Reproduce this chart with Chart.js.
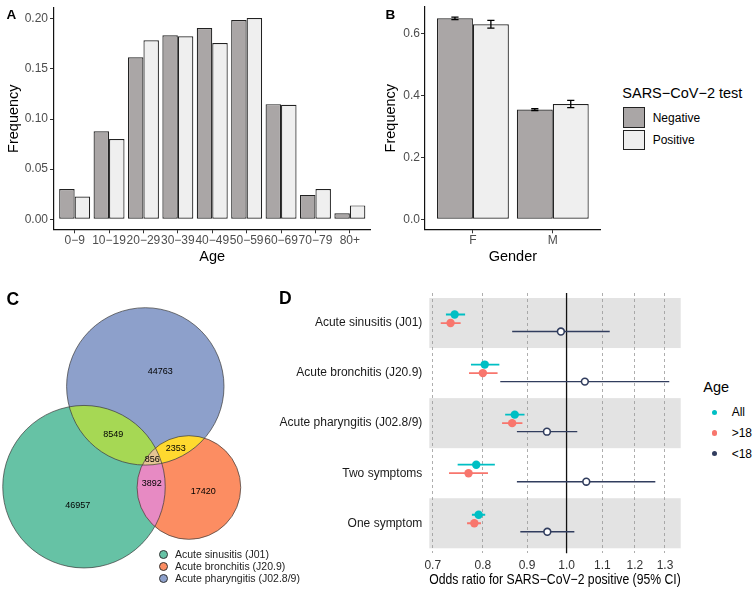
<!DOCTYPE html>
<html>
<head>
<meta charset="utf-8">
<script src="https://cdn.jsdelivr.net/npm/chart.js@4.4.0/dist/chart.umd.min.js"></script>
<style>
body { margin: 0; background: #fff; font-family: 'Liberation Sans', Arial, sans-serif; }
#wrap { position: relative; width: 753px; height: 592px; overflow: hidden; }
canvas { position: absolute; }
.t { position: absolute; line-height: 1; white-space: nowrap; color: #000; }
.key { position: absolute; box-sizing: border-box; }
</style>
</head>
<body>
<div id="wrap">
  <canvas id="chartA" width="376" height="270" style="left:0;top:0"></canvas>
  <canvas id="chartB" width="240" height="270" style="left:370px;top:0"></canvas>
  <canvas id="chartC" width="260" height="312" style="left:0;top:280px"></canvas>
  <canvas id="chartD" width="414" height="312" style="left:276px;top:280px"></canvas>
</div>
<script>
// panel A - age distribution
const ageGroups = ['0−9', '10−19', '20−29', '30−39', '40−49', '50−59', '60−69', '70−79', '80+'];
const ageNegative = [0.0302, 0.0878, 0.1615, 0.1836, 0.1908, 0.1987, 0.1148, 0.0243, 0.0059];
const agePositive = [0.0227, 0.0800, 0.1786, 0.1826, 0.1757, 0.2007, 0.1141, 0.0302, 0.0138];
const ageTicks = [0, 0.05, 0.10, 0.15, 0.20];

// panel B - gender
const genders = ['F', 'M'];
const genderNegative = [0.648, 0.3537];
const genderPositive = [0.629, 0.3717];
const genderNegativeErr = [0.004, 0.003];
const genderPositiveErr = [0.0123, 0.0118];
const genderTicks = [0, 0.2, 0.4, 0.6];
const testGroups = ['Negative', 'Positive'];

// panel C - venn counts
const vennSets = ['Acute sinusitis (J01)', 'Acute bronchitis (J20.9)', 'Acute pharyngitis (J02.8/9)'];
const vennOnly = [46957, 17420, 44763];
const vennPairs = [3892, 8549, 2353]; // sinusitis&bronchitis, sinusitis&pharyngitis, bronchitis&pharyngitis
const vennAll = 856;

// panel D - odds ratios
const symptoms = ['Acute sinusitis (J01)', 'Acute bronchitis (J20.9)', 'Acute pharyngitis (J02.8/9)', 'Two symptoms', 'One symptom'];
const orGroups = ['All', '>18', '<18'];
const orAll = [0.742, 0.804, 0.871, 0.786, 0.791];
const orAllLo = [0.725, 0.775, 0.849, 0.748, 0.777];
const orAllHi = [0.763, 0.836, 0.894, 0.826, 0.805];
const orAdult = [0.734, 0.800, 0.865, 0.770, 0.782];
const orAdultLo = [0.715, 0.771, 0.842, 0.731, 0.767];
const orAdultHi = [0.754, 0.832, 0.889, 0.811, 0.796];
const orChild = [0.985, 1.050, 0.949, 1.054, 0.950];
const orChildLo = [0.865, 0.838, 0.876, 0.876, 0.884];
const orChildHi = [1.122, 1.315, 1.029, 1.267, 1.021];
const orTicks = [0.7, 0.8, 0.9, 1.0, 1.1, 1.2, 1.3];

Chart.defaults.font.family = "'Liberation Sans', Arial, sans-serif";
Chart.defaults.animation = false;
Chart.defaults.events = [];
Chart.defaults.plugins.legend.display = false;
Chart.defaults.plugins.tooltip.enabled = false;

const negColor = '#aaa6a6';
const posColor = '#efefef';
const tickGray = '#4d4d4d';

// shared axis setup for the two ggplot theme_classic bar panels
function classicAxis(extra) {
    return Object.assign({
        bounds: 'data',
        offset: false,
        grid: { display: true, offset: false, drawOnChartArea: false, drawTicks: true, tickLength: 4, tickColor: '#333', tickWidth: 1 },
        border: { display: true, color: '#111', width: 1.2 },
    }, extra);
}

function barDataset(label, values, color) {
    return {
        label: label,
        data: values.map((v, i) => ({ x: i + 1, y: v })),
        backgroundColor: color,
        borderColor: '#222',
        borderWidth: 1.2,
        borderSkipped: false,
        categoryPercentage: 0.9,
        barPercentage: 1.0
    };
}

// ---------- A ----------
const maxA = Math.max(...ageNegative, ...agePositive);
new Chart(document.getElementById('chartA'), {
    type: 'bar',
    data: { datasets: [barDataset(testGroups[0], ageNegative, negColor), barDataset(testGroups[1], agePositive, posColor)] },
    options: {
        responsive: false,
        devicePixelRatio: 1,
        layout: { padding: { left: 0, top: 5.9, right: 5.5, bottom: 0 } },
        scales: {
            x: classicAxis({
                type: 'linear', min: 0.4, max: ageGroups.length + 0.6,
                afterBuildTicks: s => { s.ticks = ageGroups.map((g, i) => ({ value: i + 1 })); },
                afterFit: s => { s.height = 40.7; },
                ticks: { callback: v => ageGroups[v - 1], autoSkip: false, maxRotation: 0, minRotation: 0, padding: 1, color: tickGray, font: { size: 12, lineHeight: 1 } },
                title: { display: true, text: 'Age', color: '#000', font: { size: 14.5, lineHeight: 1 }, padding: { top: 0, bottom: 6 } }
            }),
            y: classicAxis({
                type: 'linear', min: -0.05 * maxA, max: 1.05 * maxA,
                afterBuildTicks: s => { s.ticks = ageTicks.map(v => ({ value: v })); },
                afterFit: s => { s.width = 54; },
                ticks: { callback: v => v.toFixed(2), padding: 2, color: tickGray, font: { size: 12, lineHeight: 1 } },
                title: { display: true, text: 'Frequency', color: '#000', font: { size: 14.5, lineHeight: 1 }, padding: { top: 7, bottom: 0 } }
            })
        }
    }
});

// ---------- B ----------
const errorBarPlugin = {
    id: 'errorBars',
    afterDatasetsDraw(chart) {
        const { ctx, scales: { y } } = chart;
        const vals = [genderNegative, genderPositive];
        const errs = [genderNegativeErr, genderPositiveErr];
        ctx.save();
        ctx.strokeStyle = '#000';
        ctx.lineWidth = 1.3;
        chart.data.datasets.forEach((ds, d) => {
            chart.getDatasetMeta(d).data.forEach((bar, j) => {
                const top = y.getPixelForValue(vals[d][j] + errs[d][j]);
                const bot = y.getPixelForValue(vals[d][j] - errs[d][j]);
                const half = bar.width * 0.1;
                ctx.beginPath();
                ctx.moveTo(bar.x, top); ctx.lineTo(bar.x, bot);
                ctx.moveTo(bar.x - half, top); ctx.lineTo(bar.x + half, top);
                ctx.moveTo(bar.x - half, bot); ctx.lineTo(bar.x + half, bot);
                ctx.stroke();
            });
        });
        ctx.restore();
    }
};

const maxB = Math.max(...genderNegative.map((v, i) => v + genderNegativeErr[i]), ...genderPositive.map((v, i) => v + genderPositiveErr[i]));
new Chart(document.getElementById('chartB'), {
    type: 'bar',
    data: { datasets: [barDataset(testGroups[0], genderNegative, negColor), barDataset(testGroups[1], genderPositive, posColor)] },
    options: {
        responsive: false,
        devicePixelRatio: 1,
        layout: { padding: { left: 0, top: 6.6, right: 9.3, bottom: 0 } },
        scales: {
            x: classicAxis({
                type: 'linear', min: 0.4, max: genders.length + 0.6,
                afterBuildTicks: s => { s.ticks = genders.map((g, i) => ({ value: i + 1 })); },
                afterFit: s => { s.height = 40.7; },
                ticks: { callback: v => genders[v - 1], autoSkip: false, maxRotation: 0, minRotation: 0, padding: 1, color: tickGray, font: { size: 12, lineHeight: 1 } },
                title: { display: true, text: 'Gender', color: '#000', font: { size: 14.5, lineHeight: 1 }, padding: { top: 0, bottom: 6 } }
            }),
            y: classicAxis({
                type: 'linear', min: -0.05 * maxB, max: 1.05 * maxB,
                afterBuildTicks: s => { s.ticks = genderTicks.map(v => ({ value: v })); },
                afterFit: s => { s.width = 55; },
                ticks: { callback: v => v.toFixed(1), padding: 1, color: tickGray, font: { size: 12, lineHeight: 1 } },
                title: { display: true, text: 'Frequency', color: '#000', font: { size: 14.5, lineHeight: 1 }, padding: { top: 13.7, bottom: 0 } }
            })
        }
    },
    plugins: [errorBarPlugin]
});

// ---------- C (venn) ----------
const setTotals = [
    vennOnly[0] + vennPairs[0] + vennPairs[1] + vennAll,
    vennOnly[1] + vennPairs[0] + vennPairs[2] + vennAll,
    vennOnly[2] + vennPairs[1] + vennPairs[2] + vennAll
];
const vennColors = ['#66c2a5', '#fc8d62', '#8da0cb'];
const pairColors = ['#e78ac3', '#a6d854', '#ffd92f'];
const pairIdx = [[0, 1], [0, 2], [1, 2]];
const tripleColor = '#e5c494';
// layout: circle centres in panel units, radius unit per sqrt(count)
const vennCenters = [[84, 206.7], [188.9, 207.5], [145.3, 106.4]];
const vennUnit = 0.331;
const onlyLabelPos = [[77.7, 226], [203.3, 211.7], [160.3, 91.7]];
const pairLabelPos = [[151.7, 204], [113.3, 155], [175.7, 168.3]];
const allLabelPos = [152.3, 180];

const vennPlugin = {
    id: 'venn',
    afterDraw(chart) {
        const { ctx, scales: { x, y } } = chart;
        const circles = vennCenters.map((c, i) => ({
            px: x.getPixelForValue(c[0]),
            py: y.getPixelForValue(c[1]),
            r: x.getPixelForValue(c[0] + vennUnit * Math.sqrt(setTotals[i])) - x.getPixelForValue(c[0])
        }));
        const path = c => { ctx.beginPath(); ctx.arc(c.px, c.py, c.r, 0, Math.PI * 2); };
        ctx.save();
        circles.forEach((c, i) => { path(c); ctx.fillStyle = vennColors[i]; ctx.fill(); });
        pairIdx.forEach(([a, b], k) => {
            ctx.save(); path(circles[a]); ctx.clip(); path(circles[b]); ctx.fillStyle = pairColors[k]; ctx.fill(); ctx.restore();
        });
        ctx.save();
        path(circles[0]); ctx.clip(); path(circles[1]); ctx.clip(); path(circles[2]);
        ctx.fillStyle = tripleColor; ctx.fill();
        ctx.restore();
        ctx.strokeStyle = '#3a3a3a';
        ctx.lineWidth = 0.7;
        circles.forEach(c => { path(c); ctx.stroke(); });

        ctx.fillStyle = '#000';
        ctx.font = "9px 'Liberation Sans', Arial, sans-serif";
        ctx.textAlign = 'center';
        ctx.textBaseline = 'middle';
        const put = (v, p) => ctx.fillText(String(v), x.getPixelForValue(p[0]), y.getPixelForValue(p[1]));
        vennOnly.forEach((v, i) => put(v, onlyLabelPos[i]));
        vennPairs.forEach((v, i) => put(v, pairLabelPos[i]));
        put(vennAll, allLabelPos);
        ctx.restore();
    }
};

new Chart(document.getElementById('chartC'), {
    type: 'scatter',
    data: { datasets: [] },
    options: {
        responsive: false,
        devicePixelRatio: 1,
        layout: { padding: 0 },
        scales: {
            x: { type: 'linear', display: false, min: 0, max: 260 },
            y: { type: 'linear', display: false, min: 0, max: 312, reverse: true }
        }
    },
    plugins: [vennPlugin]
});

// ---------- D (forest plot) ----------
const orColors = ['#00bfc4', '#f8766d', '#313d5e'];
const dodge = [-0.17, 0, 0.17];
const estimates = [orAll, orAdult, orChild];
const lows = [orAllLo, orAdultLo, orChildLo];
const highs = [orAllHi, orAdultHi, orChildHi];

const loAll = Math.min(...orAllLo, ...orAdultLo, ...orChildLo);
const hiAll = Math.max(...orAllHi, ...orAdultHi, ...orChildHi);
const logSpan = Math.log(hiAll) - Math.log(loAll);

const bandsPlugin = {
    id: 'bands',
    beforeDraw(chart) {
        const { ctx, chartArea: a, scales: { y } } = chart;
        ctx.save();
        ctx.fillStyle = '#e3e3e3';
        symptoms.forEach((s, i) => {
            if (i % 2) return;
            const t = y.getPixelForValue(i + 0.5), b = y.getPixelForValue(i + 1.5);
            ctx.fillRect(a.left, t, a.right - a.left, b - t);
        });
        ctx.restore();
    },
    beforeDatasetsDraw(chart) {
        const { ctx, chartArea: a, scales: { x } } = chart;
        const px = x.getPixelForValue(1);
        ctx.save();
        ctx.strokeStyle = '#111';
        ctx.lineWidth = 1.3;
        ctx.beginPath(); ctx.moveTo(px, a.top); ctx.lineTo(px, a.bottom); ctx.stroke();
        ctx.restore();
    }
};

const pointSets = estimates.map((est, g) => ({
    label: orGroups[g],
    data: est.map((v, i) => ({ x: v, y: i + 1 + dodge[g] })),
    pointRadius: g === 2 ? 3.4 : 4.2,
    pointBackgroundColor: g === 2 ? '#fff' : orColors[g],
    pointBorderColor: orColors[g],
    pointBorderWidth: g === 2 ? 1.6 : 0
}));
const ciSets = estimates.map((est, g) => ({
    label: orGroups[g] + ' CI',
    data: est.flatMap((v, i) => [
        { x: lows[g][i], y: i + 1 + dodge[g] },
        { x: highs[g][i], y: i + 1 + dodge[g] },
        { x: highs[g][i], y: null }
    ]),
    showLine: true,
    spanGaps: false,
    pointRadius: 0,
    borderColor: orColors[g],
    borderWidth: g === 2 ? 1.4 : 1.8
}));

new Chart(document.getElementById('chartD'), {
    type: 'scatter',
    data: { datasets: [...pointSets.slice().reverse(), ...ciSets.slice().reverse()] },
    options: {
        responsive: false,
        devicePixelRatio: 1,
        layout: { padding: { left: 0, top: 9.7, right: 9.3, bottom: 0 } },
        scales: {
            x: {
                type: 'logarithmic', bounds: 'data',
                min: Math.exp(Math.log(loAll) - 0.05 * logSpan),
                max: Math.exp(Math.log(hiAll) + 0.05 * logSpan),
                afterBuildTicks: s => { s.ticks = orTicks.map(v => ({ value: v })); },
                afterFit: s => { s.height = 38.7; },
                grid: { display: true, drawTicks: false, color: c => (c.tick && c.tick.value === 1 ? 'rgba(0,0,0,0)' : '#9a9a9a'), lineWidth: 0.8 },
                border: { display: false, dash: [3, 3] },
                ticks: { callback: v => Number(v).toFixed(1), autoSkip: false, maxRotation: 0, minRotation: 0, padding: 6.4, color: '#333', font: { size: 12, lineHeight: 1 } },
                title: { display: true, text: 'Odds ratio for SARS−CoV−2 positive (95% CI)', color: '#000', font: { size: 14.5, lineHeight: 1 }, padding: { top: 0, bottom: 4.3 } }
            },
            y: {
                type: 'linear', bounds: 'data', min: 0.4, max: symptoms.length + 0.6, reverse: true,
                afterBuildTicks: s => { s.ticks = symptoms.map((c, i) => ({ value: i + 1 })); },
                afterFit: s => { s.width = 153.3; },
                grid: { display: false, drawTicks: false },
                border: { display: false },
                ticks: { callback: v => symptoms[v - 1], autoSkip: false, padding: 7, color: '#1a1a1a', font: { size: 12, lineHeight: 1 } }
            }
        }
    },
    plugins: [bandsPlugin]
});

// ---------- text, legends and panel letters ----------
const wrap = document.getElementById('wrap');
function text(str, x, yMid, size, extra) {
    const d = document.createElement('div');
    d.className = 't';
    d.textContent = str;
    d.style.left = x + 'px';
    d.style.top = (yMid - 0.49 * size) + 'px';
    d.style.fontSize = size + 'px';
    Object.assign(d.style, extra || {});
    wrap.appendChild(d);
}
function box(x, y, w, h, style) {
    const d = document.createElement('div');
    d.className = 'key';
    Object.assign(d.style, { left: x + 'px', top: y + 'px', width: w + 'px', height: h + 'px' }, style);
    wrap.appendChild(d);
}

text('A', 6.5, 14.2, 13.5, { fontWeight: 'bold' });
text('B', 385.5, 14.2, 13.5, { fontWeight: 'bold' });
text('C', 6.5, 299.5, 17.5, { fontWeight: 'bold' });
text('D', 279, 299, 17.5, { fontWeight: 'bold' });

// legend B
text('SARS−CoV−2 test', 622.3, 92.8, 14.5);
[negColor, posColor].forEach((c, i) => {
    box(623, 107 + i * 22.5, 21.5, 20.5, { background: c, border: '1.3px solid #222' });
    text(testGroups[i], 652.7, 117.5 + i * 22.5, 12);
});

// legend C
vennSets.forEach((s, i) => {
    const cy = 554 + i * 12.2;
    box(158.8, cy - 4.5, 9, 9, { background: vennColors[i], border: '0.8px solid #333', borderRadius: '50%' });
    text(s, 175, cy, 10.5, { color: '#222' });
});

// legend D
text('Age', 703.3, 387.5, 14.5);
orGroups.forEach((g, i) => {
    const cy = 412.3 + i * 20.7;
    box(711.8, cy - 2.6, 5.2, 5.2, { background: orColors[i], borderRadius: '50%' });
    text(g, 731.7, cy, 12);
});
</script>
</body>
</html>
